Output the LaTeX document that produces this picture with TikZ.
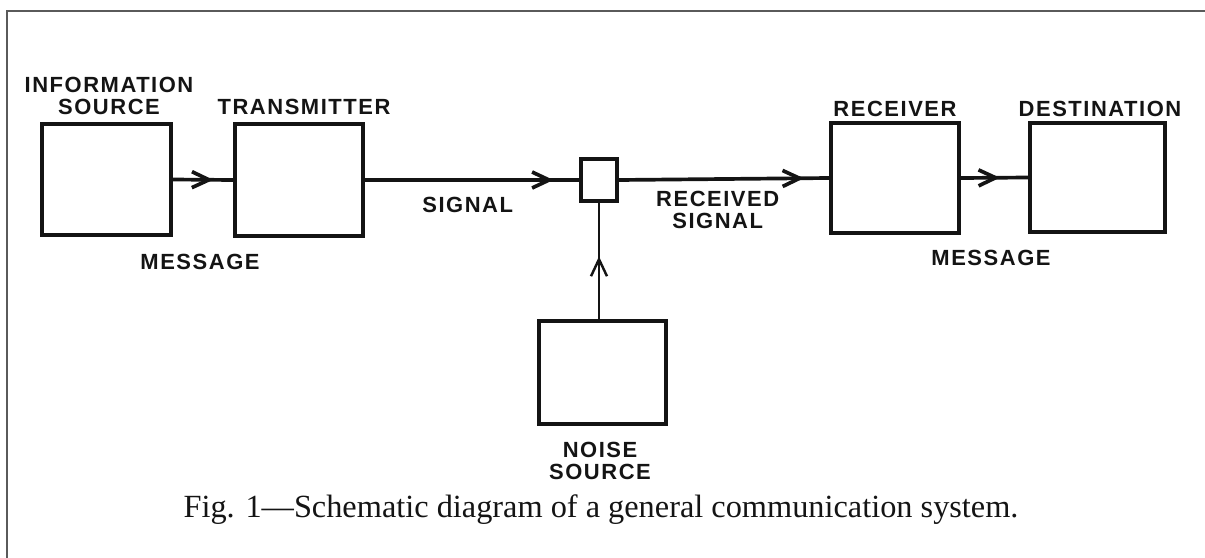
\documentclass[tikz,border=0pt]{standalone}
\usepackage{fontspec}
\setmainfont{Liberation Serif}
\newfontfamily\letterfont[LetterSpace=7]{Liberation Sans}
\usepackage{xcolor}
\usetikzlibrary{arrows.meta, positioning, calc, decorations.markings}
\definecolor{FIG_INK}{HTML}{141414}
\definecolor{FIG_FRAME}{HTML}{5a5a5a}
\tikzset{
  block/.style={
    rectangle, inner sep=0pt,
    draw=FIG_INK, line width=2.1pt},
  lbl/.style={
    inner sep=0pt, align=center,
    text=FIG_INK, font=\letterfont\bfseries\fontsize{12.5}{12.5}\selectfont},
  wire/.style={line width=2.1pt, draw=FIG_INK},
  midarr/.style={
    decoration={markings,
      mark=at position #1 with {\arrow{Straight Barb[length=3.4mm,width=3.2mm]}}},
    postaction={decorate}},
}

\begin{document}
\begin{tikzpicture}[x=0.02cm, y=-0.02cm]
  \useasboundingbox (0,0) rectangle (1205,558);
  \draw[FIG_FRAME, line width=0.9pt] (7,558) -- (7,11) -- (1205,11);

  % blocks
  \node[block, minimum width=2.58cm, minimum height=2.22cm] (src) at (106.5,179.5) {};
  \node[block, minimum width=2.56cm, minimum height=2.24cm] (tx) at (299,180) {};
  \node[block, minimum width=0.72cm, minimum height=0.84cm] (mix) at (599,180) {};
  \node[block, minimum width=2.56cm, minimum height=2.20cm] (rx) at (895,178) {};
  \node[block, minimum width=2.70cm, minimum height=2.18cm] (dst) at (1097.5,177.5) {};
  \node[block, minimum width=2.54cm, minimum height=2.06cm] (noise) at (602.5,372.5) {};

  % block names
  \node[lbl, above=0.14cm of src, xshift=0.05cm] (srcl) {INFORMATION\\SOURCE};
  \node[lbl, above=0.14cm of tx, xshift=0.1cm] (txl) {TRANSMITTER};
  \node[lbl, above=0.08cm of rx] (rxl) {RECEIVER};
  \node[lbl, above=0.08cm of dst, xshift=0.05cm] (dstl) {DESTINATION};
  \node[lbl, below=0.32cm of noise, xshift=-0.05cm] (noisel) {NOISE\\SOURCE};

  % connectors
  \draw[wire, midarr=0.67] (src.east) -- (tx.west);
  \draw[wire, midarr=0.88] (tx.east) --
    node[lbl, pos=0.48, below=0.3cm] (sigl) {SIGNAL}
    (mix.west);
  \draw[wire, midarr=0.88] (mix.east) --
    node[lbl, pos=0.47, below=0.2cm] (rsigl) {RECEIVED\\SIGNAL}
    (rx.west);
  \draw[wire, midarr=0.58] (rx.east) -- (dst.west);
  \draw[line width=1.4pt, draw=FIG_INK, midarr=0.54]
    (noise.north -| mix.south) -- (mix.south);

  \node[lbl] (msg1) at (200,262) {MESSAGE};
  \node[lbl] (msg2) at (991,258) {MESSAGE};

  % caption
  \node[anchor=base, inner sep=0pt, text=FIG_INK,
    font=\fontsize{18.4}{20}\selectfont] (cap) at (601,517)
    {Fig. 1---Schematic diagram of a general communication system.};
\end{tikzpicture}
\end{document}
